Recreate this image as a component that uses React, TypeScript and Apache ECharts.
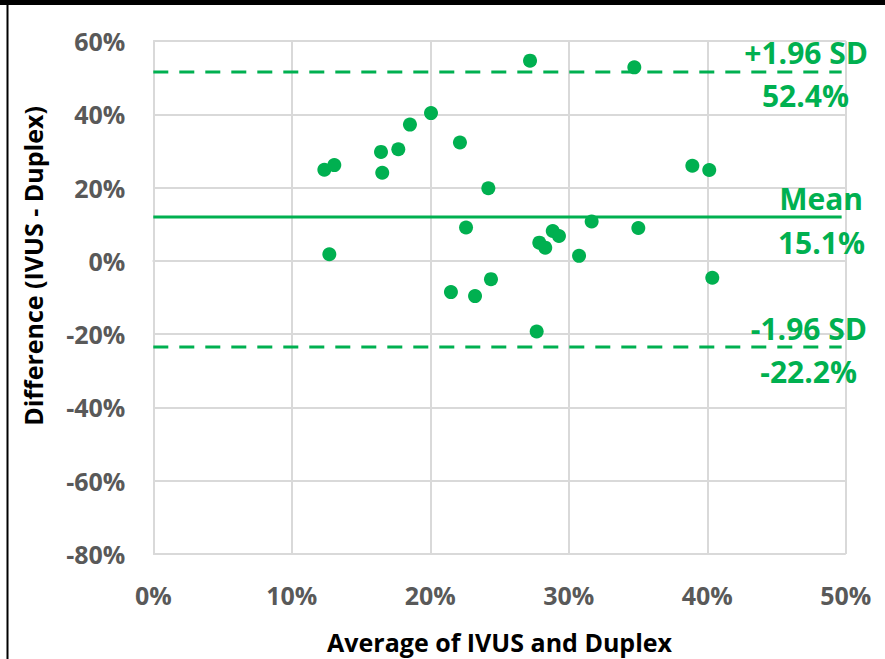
import React, { useEffect, useRef } from "react";
import * as echarts from "echarts";

const avgValues: number[] = [
  12.35, 13.07, 12.71, 16.44, 16.53, 17.69, 18.53, 20.05, 22.14, 24.19, 22.58, 21.49, 23.23, 24.38,
  27.68, 27.2, 34.73, 38.92, 40.14, 31.65, 35.02, 27.87, 28.3, 28.84, 29.29, 30.74, 40.36,
];
const diffValues: number[] = [
  24.86, 26.13, 1.79, 29.74, 24.04, 30.47, 37.18, 40.33, 32.29, 19.81, 9.12, -8.52, -9.61, -4.99,
  -19.27, 54.63, 52.81, 25.94, 24.78, 10.75, 8.96, 4.97, 3.61, 8.14, 6.78, 1.36, -4.61,
];
const lineNames: string[] = ["+1.96 SD", "Mean", "-1.96 SD"];
const lineLevels: number[] = [51.56, 11.94, -23.53];
const lineValueLabels: string[] = ["52.4%", "15.1%", "-22.2%"];
const lineXRange: number[] = [0, 49.7];
const xTicks = { min: 0, max: 50, interval: 10 };
const yTicks = { min: -80, max: 60, interval: 20 };
const xTitle = "Average of IVUS and Duplex";
const yTitle = "Difference (IVUS - Duplex)";

const GREEN = "#00B050";
const FONT = "'Open Sans', sans-serif";

export default function App() {
  const ref = useRef<HTMLDivElement>(null);
  useEffect(() => {
    if (!ref.current) return;
    const chart = echarts.init(ref.current, null, { renderer: "svg" });
    const points = avgValues.map((x, i) => [x, diffValues[i]]);
    const lineSeries = lineLevels.map((lv, i) => ({
      type: "line",
      name: lineNames[i],
      data: [
        [lineXRange[0], lv],
        [lineXRange[1], lv],
      ],
      symbol: "none",
      silent: true,
      lineStyle: {
        color: GREEN,
        width: 3,
        type: i === 1 ? "solid" : [15, 11],
      },
      z: 2,
    }));
    const labelSpecs = [
      { text: lineNames[0], right: 868, y: 52 },
      { text: lineValueLabels[0], right: 849, y: 95 },
      { text: lineNames[1], right: 863, y: 198 },
      { text: lineValueLabels[1], right: 865, y: 242 },
      { text: lineNames[2], right: 867, y: 328 },
      { text: lineValueLabels[2], right: 857, y: 371 },
    ];
    chart.setOption({
      animation: false,
      backgroundColor: "#ffffff",
      grid: { left: 153.3, right: 39.2, top: 41, bottom: 102 },
      xAxis: {
        type: "value",
        min: xTicks.min,
        max: xTicks.max,
        interval: xTicks.interval,
        name: xTitle,
        nameLocation: "middle",
        nameGap: 75,
        nameTextStyle: { fontFamily: FONT, fontWeight: "bold", fontSize: 25, color: "#000000" },
        axisLine: { show: true, lineStyle: { color: "#d9d9d9", width: 2 } },
        axisTick: { show: false },
        axisLabel: {
          formatter: "{value}%",
          fontFamily: FONT,
          fontWeight: "bold",
          fontSize: 25,
          color: "#595959",
          margin: 28,
        },
        splitLine: { show: true, lineStyle: { color: "#d9d9d9", width: 2 } },
      },
      yAxis: {
        type: "value",
        min: yTicks.min,
        max: yTicks.max,
        interval: yTicks.interval,
        axisLine: { show: true, lineStyle: { color: "#d9d9d9", width: 2 } },
        axisTick: { show: false },
        axisLabel: {
          formatter: "{value}%",
          fontFamily: FONT,
          fontWeight: "bold",
          fontSize: 25,
          color: "#595959",
          margin: 28,
        },
        splitLine: { show: true, lineStyle: { color: "#d9d9d9", width: 2 } },
      },
      series: [
        ...lineSeries,
        {
          type: "scatter",
          name: "Differences",
          data: points,
          symbol: "circle",
          symbolSize: 14,
          itemStyle: { color: GREEN, opacity: 1 },
          z: 3,
        },
      ],
      graphic: [
        { type: "rect", shape: { x: 0, y: 0, width: 885, height: 5 }, style: { fill: "#000000" }, z: 100 },
        { type: "rect", shape: { x: 6.5, y: 0, width: 2, height: 659 }, style: { fill: "#000000" }, z: 100 },
        {
          type: "text",
          x: 33,
          y: 266,
          rotation: Math.PI / 2,
          z: 50,
          style: {
            text: yTitle,
            fill: "#000000",
            font: `bold 25px ${FONT}`,
            align: "center",
            verticalAlign: "middle",
          },
        },
        ...labelSpecs.map((s) => ({
          type: "text",
          x: s.right,
          y: s.y,
          z: 50,
          style: {
            text: s.text,
            fill: GREEN,
            font: `bold 30px ${FONT}`,
            align: "right",
            verticalAlign: "middle",
          },
        })),
      ],
    });
    return () => chart.dispose();
  }, []);
  return (
    <div
      ref={ref}
      style={{ position: "fixed", left: 0, top: 0, width: 885, height: 659, background: "#fff" }}
    />
  );
}
